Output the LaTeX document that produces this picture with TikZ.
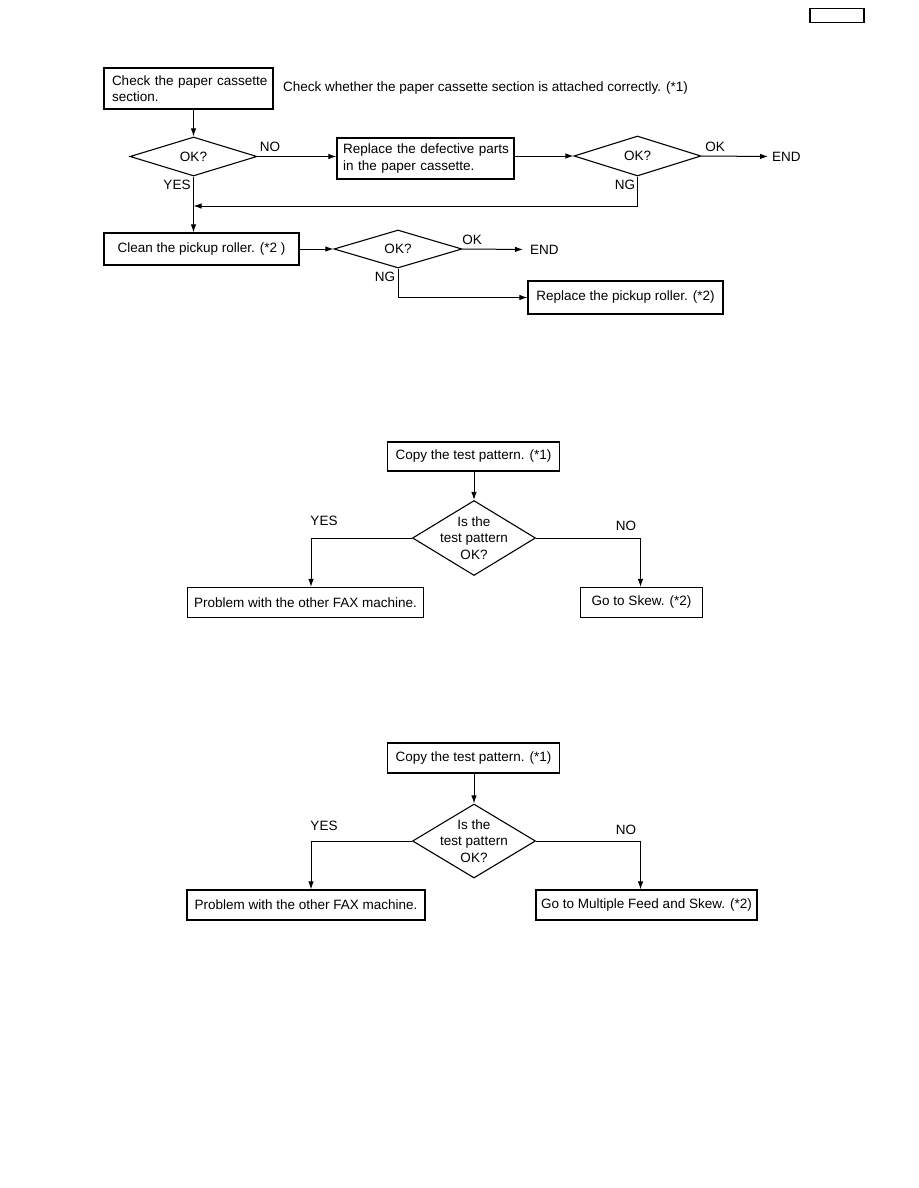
\documentclass[tikz,border=0pt]{standalone}
\usepackage{fontspec}
\setmainfont{Liberation Sans}
\usetikzlibrary{shapes.geometric,arrows.meta}
\begin{document}
\begin{tikzpicture}[x=1pt,y=-1pt,
  every node/.style={font=\fontsize{13.5}{16.5}\selectfont},
  box/.style={draw,line width=1.2pt,rectangle,inner sep=0pt,align=center},
  lbox/.style={draw,line width=1.2pt,rectangle,inner ysep=0pt,align=left},
  dia/.style={draw,line width=1.1pt,diamond,inner sep=0pt},
  lbl/.style={inner sep=0pt},
  arr/.style={line width=1pt,-{Latex[length=8pt,width=5.5pt]}},
  ln/.style={line width=1pt}]
\useasboundingbox (0,0) rectangle (918,1188);
% corner box
\node[box,minimum width=54,minimum height=14] (tag) at (837,15.3) {};
% ---------- top section ----------
\node[lbox,text width=163,inner xsep=3,minimum height=41] (A) at (188.5,88.5) {\hspace*{5pt}Check the paper cassette\\\hspace*{5pt}section.};
\node[lbl,anchor=west] (note) at (283,88) {Check whether the paper cassette section is attached correctly. (*1)};
\node[dia,minimum width=127,minimum height=39] (D1) at (193.5,156.5) {};
\node[lbl] (D1t) at (D1) {OK?};
\node[lbox,text width=171,inner xsep=3,minimum height=41] (B) at (425.5,158.5) {\hspace*{3pt}Replace the defective parts\\\hspace*{3pt}in the paper cassette.};
\node[dia,minimum width=127,minimum height=40] (D2) at (637.5,156) {};
\node[lbl] (D2t) at (D2) {OK?};
\node[lbl,anchor=west] (END1) at (772,156.5) {END};
\coordinate (j1) at (193.5,206);
\node[box,minimum width=195,minimum height=32] (C) at (201.5,249) {Clean the pickup roller. (*2 )};
\node[dia,minimum width=128,minimum height=38] (D3) at (398,249) {};
\node[lbl] (D3t) at (D3) {OK?};
\node[lbl,anchor=west] (END2) at (530,249.5) {END};
\node[box,minimum width=195,minimum height=33] (E) at (625.5,297.5) {Replace the pickup roller. (*2)};
\node[lbl] (l1) at (270,147) {NO};
\node[lbl] (l2) at (177,185) {YES};
\node[lbl] (l3) at (715,146.5) {OK};
\node[lbl] (l4) at (625,185) {NG};
\node[lbl] (l5) at (472,240) {OK};
\node[lbl] (l6) at (385,277) {NG};
\draw[arr] (A.south -| D1) -- (D1.north);
\draw[arr] (D1.east) -- (D1.east -| B.west);
\draw[arr] (D2.west -| B.east) -- (D2.west);
\draw[arr,shorten >=4pt] (D2.east) -- (END1.west);
\draw[arr] (D2.south) |- (j1);
\draw[arr] (D1.south) -- (D1.south |- C.north);
\draw[arr] (C.east) -- (D3.west);
\draw[arr,shorten >=7pt] (D3.east) -- (END2.west);
\draw[arr] (D3.south) |- (E.west);
% ---------- middle section ----------
\node[box,minimum width=172,minimum height=29] (F) at (473.5,456.5) {Copy the test pattern. (*1)};
\node[dia,minimum width=123,minimum height=75] (D4) at (474,538) {};
\node[lbl,align=center] (D4t) at (D4) {Is the\\test pattern\\OK?};
\node[box,minimum width=236,minimum height=30] (G) at (305.5,602.5) {Problem with the other FAX machine.};
\node[box,minimum width=122,minimum height=30] (H) at (641.5,602.5) {Go to Skew. (*2)};
\coordinate (gx) at (311,0);
\coordinate (hx) at (640.5,0);
\node[lbl] (m1) at (324,521) {YES};
\node[lbl] (m2) at (626,526) {NO};
\draw[arr] (F.south -| D4) -- (D4.north);
\draw[arr] (D4.west) -| (gx |- G.north);
\draw[arr] (D4.east) -| (hx |- H.north);
% ---------- bottom section ----------
\node[box,minimum width=172,minimum height=30] (I) at (473.5,758) {Copy the test pattern. (*1)};
\node[dia,minimum width=123,minimum height=74] (D5) at (474,841) {};
\node[lbl,align=center] (D5t) at (D5) {Is the\\test pattern\\OK?};
\node[box,minimum width=238,minimum height=30] (G2) at (306,905) {Problem with the other FAX machine.};
\node[box,minimum width=221,minimum height=30] (H2) at (646.5,905) {Go to Multiple Feed and Skew. (*2)};
\node[lbl] (b1) at (324,826) {YES};
\node[lbl] (b2) at (626,830) {NO};
\draw[arr] (I.south -| D5) -- (D5.north);
\draw[arr] (D5.west) -| (gx |- G2.north);
\draw[arr] (D5.east) -| (hx |- H2.north);
\end{tikzpicture}
\end{document}
